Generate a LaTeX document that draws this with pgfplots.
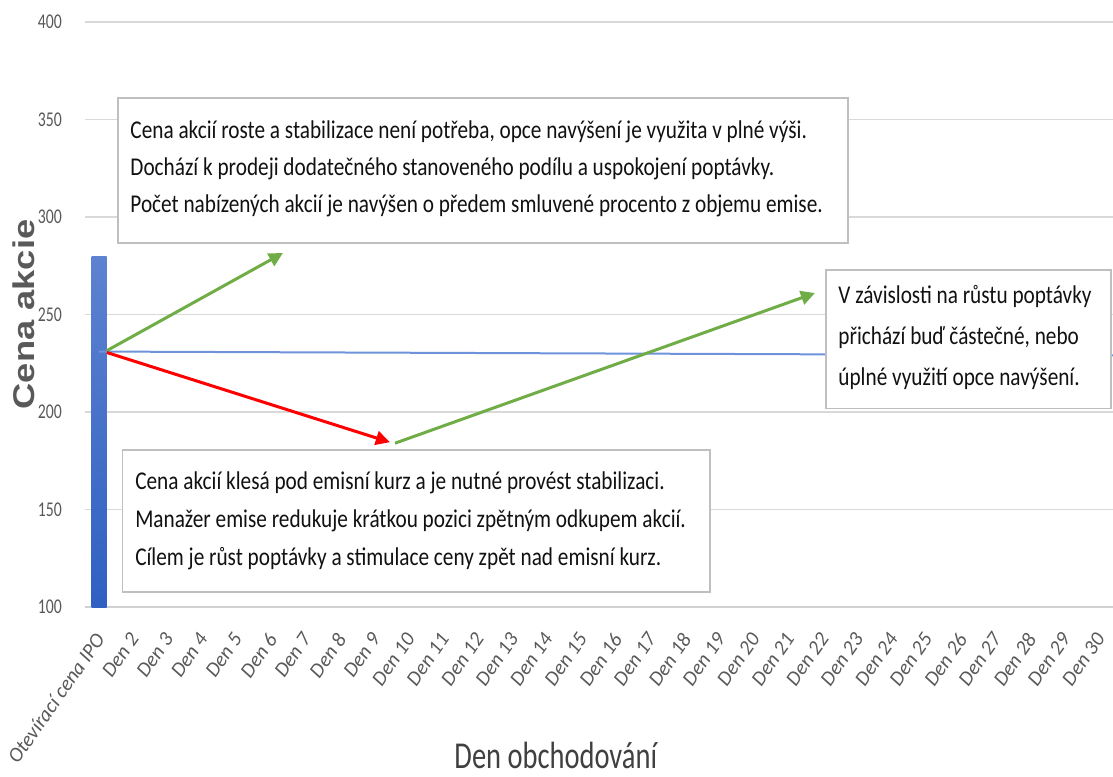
\documentclass[border=0pt]{standalone}
\usepackage{pgfplots}
\pgfplotsset{compat=1.18}
\usepackage{fontspec}
\setmainfont{Carlito}[FakeStretch=0.83]
\newfontfamily\tickfont{Carlito}
\newfontfamily\ytickfont{Carlito}[FakeStretch=0.75]
\newfontfamily\xlabfont{Carlito}[FakeStretch=0.75]
\newfontfamily\ylabfont{Liberation Sans Bold}[FakeStretch=1.21]
\usetikzlibrary{arrows.meta}
\definecolor{gridc}{HTML}{D9D9D9}
\definecolor{axc}{HTML}{D0D0D0}
\definecolor{tickc}{HTML}{595959}
\definecolor{labc}{HTML}{404040}
\definecolor{boxc}{HTML}{BFBFBF}
\definecolor{txtc}{HTML}{111111}
\definecolor{lineblue}{HTML}{6F93DB}
\definecolor{bartop}{HTML}{5D82D0}
\definecolor{barbot}{HTML}{2F60C2}
\definecolor{grn}{HTML}{70AD47}
\definecolor{rd}{HTML}{FF0000}
\begin{document}
\begin{tikzpicture}
\useasboundingbox (-42.5pt,-84.5pt) rectangle (514pt,303.5pt);
\begin{axis}[
  at={(0,0)}, anchor=south west,
  scale only axis, width=514pt, height=292.5pt,
  xmin=-0.406, xmax=29.39, ymin=100, ymax=400,
  ytick={100,150,200,250,300,350,400},
  yticklabel={\ytickfont\fontsize{10.5}{10.5}\selectfont\pgfmathprintnumber{\tick}\hspace*{8pt}},
  xtick={0,...,29},
  xticklabels={Otevírací cena IPO, Den 2, Den 3, Den 4, Den 5, Den 6, Den 7, Den 8, Den 9, Den 10, Den 11, Den 12, Den 13, Den 14, Den 15, Den 16, Den 17, Den 18, Den 19, Den 20, Den 21, Den 22, Den 23, Den 24, Den 25, Den 26, Den 27, Den 28, Den 29, Den 30},
  ymajorgrids, grid style={draw=gridc, line width=0.75pt},
  axis x line*=bottom, axis y line*=left,
  x axis line style={-, draw=axc, line width=1pt},
  y axis line style={draw=none},
  major tick length=0pt,
  /pgf/number format/assume math mode=true,
  yticklabel style={text=tickc, anchor=east},
  xticklabel style={font=\tickfont\itshape\fontsize{10.3}{10.3}\selectfont, text=tickc, xshift=-2.5pt, rotate=55, anchor=north east, inner sep=0pt},
  xticklabel shift=12pt,
  xlabel={Den obchodování},
  xlabel style={font=\xlabfont\fontsize{19}{19}\selectfont, text=labc, at={(axis description cs:0.458,-0.253)}, anchor=center},
  ylabel={Cena akcie},
  ylabel style={font=\ylabfont\fontsize{15}{15}\selectfont, text=tickc, at={(axis description cs:-0.06,0.5)}, anchor=center},
  clip=true,
]
% IPO opening price bar
\addplot[ybar, bar width=7.5pt, draw=none, top color=bartop, bottom color=barbot, bar shift=0pt] coordinates {(0,280)};
% price line at the emission price
\addplot[lineblue, line width=1pt] coordinates {(0,231) (29.39,229)};
% arrows
\addplot[grn, line width=1.5pt, -{Triangle[length=7pt,width=7pt]}] coordinates {(0.23,231.5) (5.33,281.5)};
\addplot[rd, line width=1.5pt, -{Triangle[length=7pt,width=7pt]}] coordinates {(0.23,230.5) (8.43,184.5)};
\addplot[grn, line width=1.5pt, -{Triangle[length=7pt,width=7pt]}] coordinates {(8.58,184) (20.75,261)};
% boxes
\draw[boxc, line width=0.6pt, fill=white] (axis cs:0.55,361) rectangle (axis cs:21.71,286.7);
\draw[boxc, line width=0.6pt, fill=white] (axis cs:0.67,180.5) rectangle (axis cs:17.71,107.7);
\draw[boxc, line width=0.6pt, fill=white] (axis cs:21.07,272.8) rectangle (axis cs:29.33,202);
\node[anchor=north west, align=left, inner sep=0pt, text=txtc, font=\fontsize{12.8}{18.5}\selectfont] at (axis cs:0.90,349.7)
  {Cena akcií roste a stabilizace není potřeba, opce navýšení je využita v plné výši.\\
   Dochází k prodeji dodatečného stanoveného podílu a uspokojení poptávky.\\
   Počet nabízených akcií je navýšen o předem smluvené procento z objemu emise.};
\node[anchor=north west, align=left, inner sep=0pt, text=txtc, font=\fontsize{12.8}{19}\selectfont] at (axis cs:1.04,169.7)
  {Cena akcií klesá pod emisní kurz a je nutné provést stabilizaci.\\
   Manažer emise redukuje krátkou pozici zpětným odkupem akcií.\\
   Cílem je růst poptávky a stimulace ceny zpět nad emisní kurz.};
\node[anchor=north west, align=left, inner sep=0pt, text=txtc, font=\fontsize{12.8}{20.5}\selectfont] at (axis cs:21.42,264.9)
  {V závislosti na růstu poptávky\\
   přichází buď částečné, nebo\\
   úplné využití opce navýšení.};
\end{axis}
\end{tikzpicture}
\end{document}
